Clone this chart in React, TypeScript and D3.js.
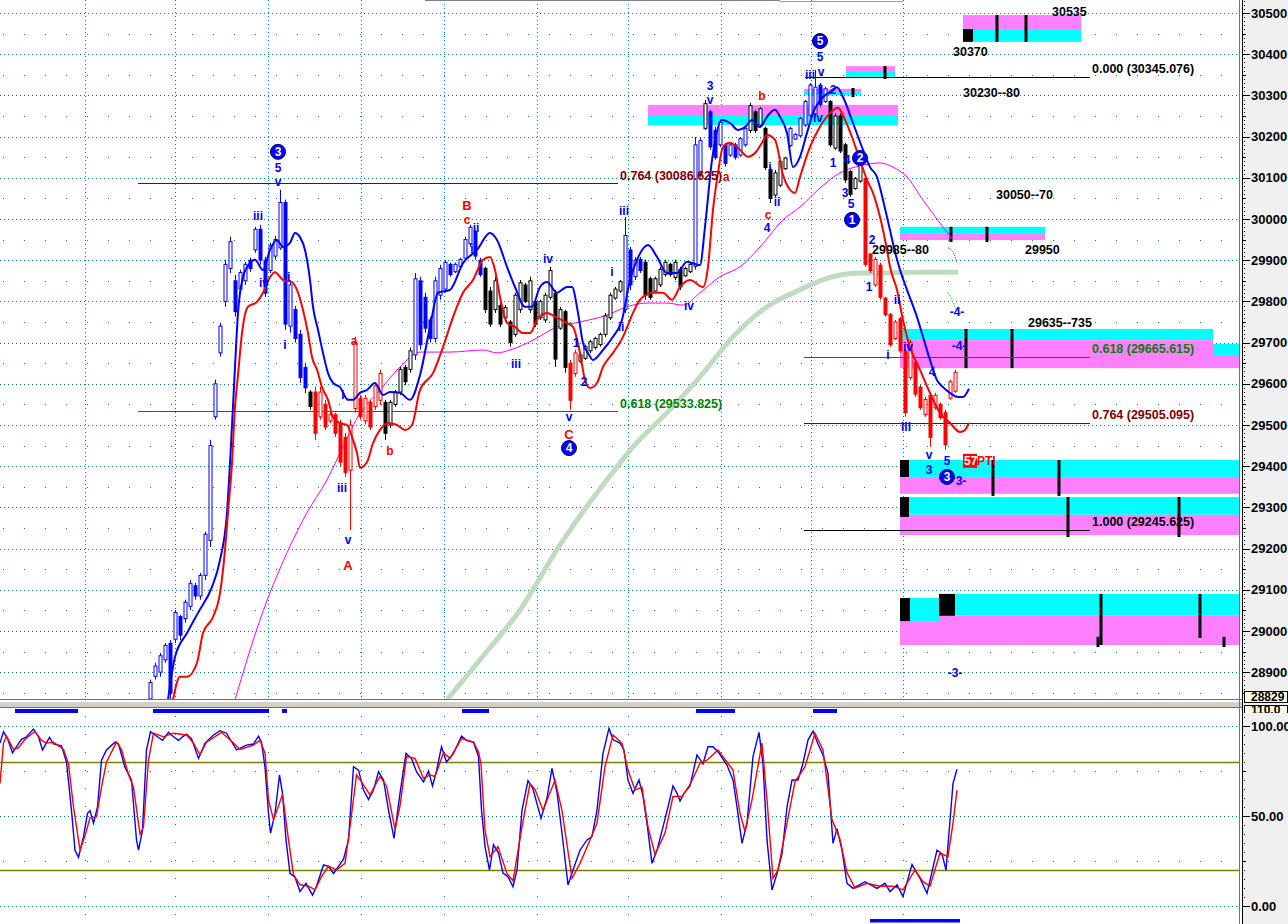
import React from 'react';
import * as d3 from 'd3';

// ---- data ----

// price bars, one per time slot starting at FIRST_BAR: [open, high, low, close]
const FIRST_BAR = 30;
const bars: [number, number, number, number][] = [
  [28835, 28882, 28820, 28875], [28890, 28923, 28882, 28915], [28900, 28947, 28889, 28940], [28930, 28971, 28923, 28965],
  [28970, 28978, 28833, 28850], [28980, 29051, 28971, 29045], [29035, 29039, 28978, 28990], [29030, 29076, 29020, 29070],
  [29060, 29124, 29051, 29115], [29110, 29117, 29076, 29085], [29085, 29141, 29076, 29135], [29135, 29241, 29124, 29235],
  [29220, 29464, 29204, 29450], [29520, 29610, 29513, 29600], [29675, 29748, 29666, 29740], [29800, 29901, 29787, 29890],
  [29880, 29957, 29869, 29945], [29850, 29864, 29763, 29775], [29830, 29877, 29821, 29870], [29850, 29896, 29840, 29890],
  [29900, 29906, 29872, 29880], [29925, 29981, 29918, 29975], [29975, 29986, 29889, 29900], [29900, 29908, 29811, 29820],
  [29875, 29942, 29869, 29935], [29910, 29959, 29901, 29950], [29930, 30071, 29925, 30040], [30040, 30047, 29731, 29745],
  [29740, 29852, 29724, 29840], [29780, 29789, 29700, 29710], [29720, 29731, 29602, 29615], [29640, 29651, 29578, 29590],
  [29580, 29585, 29537, 29545], [29580, 29593, 29464, 29480], [29520, 29593, 29513, 29580], [29550, 29561, 29488, 29495],
  [29510, 29530, 29505, 29525], [29525, 29530, 29471, 29480], [29505, 29513, 29399, 29410], [29470, 29481, 29374, 29385],
  [29390, 29513, 29245, 29500], [29540, 29714, 29530, 29700], [29565, 29573, 29513, 29520], [29510, 29573, 29501, 29565],
  [29555, 29561, 29488, 29495], [29545, 29602, 29537, 29595], [29560, 29634, 29549, 29625], [29555, 29561, 29464, 29480],
  [29500, 29561, 29493, 29555], [29550, 29585, 29544, 29580], [29580, 29641, 29573, 29635], [29640, 29646, 29597, 29605],
  [29635, 29688, 29627, 29680], [29670, 29869, 29658, 29855], [29850, 29860, 29683, 29695], [29810, 29821, 29724, 29735],
  [29755, 29763, 29700, 29710], [29710, 29860, 29700, 29850], [29815, 29889, 29804, 29880], [29830, 29901, 29821, 29895],
  [29890, 29894, 29860, 29865], [29872, 29894, 29869, 29890], [29885, 29906, 29882, 29902], [29905, 29957, 29901, 29950],
  [29940, 29986, 29932, 29980], [29970, 29974, 29901, 29910], [29900, 29906, 29860, 29865], [29880, 29884, 29772, 29780],
  [29825, 29835, 29738, 29745], [29780, 29860, 29772, 29850], [29790, 29796, 29738, 29745], [29760, 29791, 29755, 29785],
  [29750, 29755, 29690, 29700], [29720, 29821, 29714, 29815], [29780, 29852, 29772, 29845], [29840, 29845, 29796, 29800],
  [29780, 29860, 29772, 29850], [29800, 29804, 29738, 29745], [29760, 29804, 29755, 29800], [29755, 29821, 29748, 29815],
  [29810, 29884, 29804, 29875], [29820, 29828, 29641, 29660], [29735, 29787, 29731, 29780], [29775, 29780, 29627, 29640],
  [29650, 29658, 29537, 29560], [29625, 29683, 29617, 29675], [29655, 29675, 29651, 29670], [29662, 29695, 29658, 29690],
  [29680, 29707, 29675, 29702], [29688, 29714, 29683, 29710], [29695, 29724, 29690, 29720], [29720, 29772, 29714, 29765],
  [29760, 29821, 29755, 29815], [29808, 29835, 29804, 29830], [29825, 29852, 29821, 29848], [29780, 30005, 29772, 29960],
  [29925, 29932, 29828, 29840], [29860, 29908, 29852, 29900], [29902, 29908, 29869, 29875], [29895, 29901, 29804, 29815],
  [29855, 29860, 29804, 29810], [29825, 29860, 29821, 29855], [29840, 29884, 29835, 29878], [29865, 29901, 29860, 29895],
  [29890, 29894, 29860, 29865], [29858, 29901, 29852, 29895], [29878, 29884, 29828, 29835], [29862, 29884, 29860, 29880],
  [29872, 29894, 29869, 29890], [29885, 30199, 29877, 30180], [30110, 30199, 30102, 30190], [30220, 30289, 30216, 30280],
  [30260, 30265, 30168, 30175], [30215, 30224, 30144, 30150], [30180, 30241, 30175, 30235], [30180, 30185, 30127, 30135],
  [30155, 30185, 30151, 30180], [30180, 30185, 30144, 30150], [30155, 30199, 30151, 30195], [30180, 30224, 30175, 30220],
  [30215, 30282, 30209, 30275], [30260, 30265, 30209, 30215], [30228, 30272, 30224, 30268], [30220, 30224, 30119, 30125],
  [30120, 30127, 30039, 30050], [30058, 30119, 30054, 30112], [30082, 30144, 30078, 30140], [30122, 30151, 30119, 30148],
  [30178, 30224, 30175, 30220], [30194, 30209, 30192, 30205], [30202, 30248, 30199, 30244], [30228, 30289, 30224, 30285],
  [30252, 30330, 30248, 30325], [30255, 30362, 30248, 30320], [30325, 30330, 30272, 30278], [30285, 30321, 30282, 30316],
  [30285, 30289, 30175, 30180], [30172, 30257, 30168, 30250], [30250, 30257, 30160, 30165], [30180, 30185, 30088, 30095],
  [30115, 30119, 30054, 30060], [30074, 30102, 30071, 30098], [30092, 30144, 30088, 30140], [30098, 30102, 29884, 29890],
  [29915, 29918, 29869, 29875], [29840, 29908, 29835, 29902], [29888, 29894, 29804, 29810], [29808, 29811, 29763, 29768],
  [29768, 29772, 29690, 29695], [29710, 29755, 29707, 29750], [29758, 29763, 29675, 29680], [29678, 29683, 29520, 29530],
  [29615, 29707, 29610, 29700], [29652, 29658, 29568, 29575], [29592, 29597, 29537, 29542], [29525, 29568, 29520, 29562],
  [29572, 29578, 29447, 29470], [29542, 29578, 29537, 29572], [29550, 29554, 29513, 29518], [29530, 29537, 29440, 29452],
  [29565, 29610, 29561, 29605], [29582, 29634, 29578, 29628],
];

// bar colour runs: [first slot, colour]
const colorRuns: [number, string][] = [
  [30, 'b'], [62, 'k'], [63, 'r'], [77, 'k'], [83, 'b'], [97, 'k'], [114, 'r'], [116, 'k'], [125, 'b'],
  [129, 'k'], [139, 'b'], [141, 'k'], [142, 'b'], [150, 'k'], [158, 'b'], [166, 'k'], [173, 'r'],
];

// moving averages: [slot, price]
const blueMA: [number, number][] = [
  [33.6, 28833], [35, 28937], [37.4, 28995], [39.6, 29044], [42.4, 29107], [44, 29172], [45.4, 29287], [46.2, 29452],
  [47, 29641], [47.6, 29772], [48.6, 29859], [50, 29893], [51, 29901], [52.6, 29876], [54, 29925], [55.4, 29949],
  [56.6, 29932], [58, 29942], [59, 29966], [60, 29956], [61, 29925], [62, 29852], [62.6, 29787], [63.6, 29731],
  [64.6, 29675], [65.6, 29626], [66.6, 29602], [68, 29592], [69.6, 29561], [70.6, 29561], [72, 29578], [73.4, 29585],
  [75, 29602], [76.6, 29573], [78, 29580], [80, 29578], [82, 29561], [84, 29621], [86, 29738], [87.6, 29821],
  [90, 29828], [92.6, 29893], [95.4, 29925], [98, 29966], [99.4, 29949], [101.4, 29884], [103, 29835], [105, 29787],
  [106.4, 29787], [108, 29835], [109.4, 29847], [111.4, 29821], [113.4, 29835], [114.4, 29835], [115.6, 29772],
  [116.6, 29699], [117.6, 29675], [118.6, 29658], [120.6, 29682], [122.6, 29714], [124.4, 29755], [126, 29852],
  [127.4, 29901], [129.6, 29937], [131.4, 29908], [133.4, 29869], [135.4, 29869], [137.4, 29896], [140, 29888],
  [141, 29981], [142.4, 30143], [144.4, 30240], [146, 30233], [147.6, 30216], [149, 30223], [150.4, 30240],
  [152, 30223], [153.4, 30248], [155, 30265], [156, 30248], [157.4, 30209], [158.6, 30126], [160, 30151],
  [161.4, 30209], [162.6, 30257], [164.6, 30296], [166, 30308], [167.4, 30320], [168.6, 30296], [170.6, 30233],
  [172.6, 30168], [174, 30126], [175.4, 30102], [176.6, 30046], [178, 29973], [179, 29920], [180, 29877],
  [181.4, 29828], [183.4, 29762], [184.6, 29714], [186, 29658], [187.4, 29609], [188.6, 29592], [190, 29578],
  [191.6, 29568], [192.6, 29568], [193.8, 29588],
];

const redMA: [number, number][] = [
  [34.6, 28833], [36, 28889], [37.4, 28889], [39.4, 28923], [40.6, 28995], [42.6, 29034], [44, 29092], [45, 29197],
  [45.6, 29287], [46.4, 29408], [47, 29544], [47.6, 29621], [48.4, 29723], [49.6, 29787], [51.4, 29799], [52.6, 29821],
  [54, 29859], [55, 29871], [56.6, 29852], [58.4, 29847], [59.4, 29828], [60.6, 29779], [61.6, 29723], [62.4, 29665],
  [63.4, 29634], [64.4, 29592], [65.6, 29561], [66.6, 29519], [68, 29505], [69.4, 29500], [70.6, 29464], [71.4, 29432],
  [72, 29396], [73.4, 29410], [74.6, 29456], [76, 29488], [77.6, 29505], [79.4, 29500], [81, 29488], [82.4, 29500],
  [84, 29585], [86.6, 29626], [88.6, 29689], [90.6, 29762], [92.6, 29821], [94.6, 29852], [96.6, 29901], [98, 29908],
  [99, 29876], [100, 29811], [101.4, 29748], [103, 29738], [104.6, 29723], [106, 29723], [107.4, 29755], [109.4, 29772],
  [111.4, 29760], [113.4, 29748], [114.6, 29738], [116, 29675], [117, 29609], [118, 29590], [119.4, 29602],
  [120.6, 29641], [122.6, 29675], [124.6, 29714], [126.6, 29772], [128, 29804], [130.6, 29821], [132.6, 29821],
  [134.4, 29804], [136, 29835], [138, 29852], [140.6, 29835], [141.6, 29884], [142.6, 30022], [143.6, 30112],
  [144.6, 30175], [146, 30185], [148, 30168], [149.6, 30151], [151, 30160], [152.4, 30185], [153.4, 30204],
  [155, 30192], [156.6, 30107], [158, 30071], [159, 30063], [160, 30102], [162, 30175], [164, 30224], [166, 30257],
  [167.6, 30270], [169, 30241], [170.4, 30199], [172, 30143], [173.4, 30095], [174.6, 30063], [176, 30005],
  [177.4, 29925], [178, 29884], [179.4, 29828], [180.6, 29755], [182, 29689], [184, 29634], [186, 29578],
  [188, 29529], [190, 29505], [192, 29483], [193, 29488], [193.8, 29505],
];

const magentaMA: [number, number][] = [
  [47, 28833], [52, 29027], [57.4, 29190], [61.4, 29287], [65.4, 29367], [68.6, 29447], [72, 29529], [76, 29585],
  [80, 29641], [84, 29677], [90, 29677], [96.6, 29682], [99.4, 29675], [102, 29682], [106.6, 29706], [111.4, 29738],
  [116, 29750], [121.4, 29767], [125.4, 29787], [129.4, 29796], [133.4, 29796], [136.6, 29791], [140, 29821],
  [144, 29860], [148, 29884], [152, 29932], [156.6, 29998], [160, 30029], [164, 30075], [168, 30112], [172, 30129],
  [176, 30136], [178.6, 30126], [181.4, 30102], [184.6, 30046], [188, 29990], [190.6, 29949],
];

const greenMA: [number, number][] = [
  [89.4, 28833], [96, 28930], [104, 29051], [112, 29209], [118, 29313], [121.4, 29367], [126.6, 29447],
  [133.4, 29530], [140, 29617], [146.6, 29714], [153.4, 29787], [160, 29828], [164, 29850], [168, 29864],
  [172, 29869], [176, 29869], [182.6, 29871], [191.6, 29871],
];

// stochastic oscillator: [slot, value]
const oscBlue: [number, number][] = [
  [0, 90.5], [0.7, 96.8], [1.5, 93], [2.5, 85], [3.3, 88.5], [4.3, 92.6], [5.3, 94], [6.7, 98.3], [7.7, 94],
  [8.5, 86.7], [9.9, 93.7], [10.7, 90], [12.3, 89], [13.3, 80], [14.3, 53], [15, 31], [15.7, 27], [16.7, 38.5],
  [17.5, 51.5], [18, 53], [18.7, 46], [19.5, 55], [20.3, 81], [21.3, 86.7], [23, 91], [23.7, 90], [25, 77],
  [26.3, 70], [27.3, 36.7], [27.7, 31], [28.5, 42], [29.3, 86.7], [30.1, 96.8], [31, 95], [32.5, 92], [33.7, 96.5],
  [34.7, 94], [35.7, 92], [36.5, 94], [37.3, 95.5], [38.3, 93], [39.7, 82], [41, 90.5], [42.7, 95], [44, 97.4],
  [45.3, 96], [47.3, 86.7], [49.3, 89.4], [50.7, 90], [51.7, 94.4], [52.3, 91], [53, 77], [53.7, 51.5], [54.1, 40.5],
  [55, 51.5], [55.9, 72.8], [56.5, 62.6], [57.2, 36.7], [58, 18.1], [59, 16], [60, 8], [61.2, 12.6], [62.5, 6],
  [63.3, 11], [64.7, 22.8], [65.7, 22], [66.7, 18.1], [68.7, 26], [69.7, 36.7], [70.7, 77.4], [71.7, 75.5],
  [72.7, 64.4], [73.7, 59.2], [74.7, 64.4], [75.7, 74.6], [76.7, 70], [77.7, 53.3], [78.8, 37.6], [80, 62.6],
  [81.2, 84.8], [82.3, 82], [83.3, 74.6], [84.7, 69], [85.7, 75], [86.5, 66.7], [87.3, 75], [88.3, 88.5], [89.3, 80],
  [90.7, 84.8], [92.3, 94.4], [93.3, 92], [94.7, 91], [95.7, 83], [96.3, 53.3], [97, 33], [97.9, 20], [98.7, 34],
  [99.7, 29.4], [100.6, 18.3], [101.6, 16.3], [102.6, 10.7], [103.4, 20], [104.4, 53.3], [105.6, 69.6], [106.6, 65],
  [108.2, 48.7], [109.4, 60], [110.4, 76.5], [111.4, 63], [112.4, 40.4], [113.6, 11.7], [114.6, 20], [116, 31],
  [117.4, 36.7], [118.4, 38.5], [119.4, 53.3], [120.6, 84.8], [121.8, 98.7], [122.6, 92.5], [124, 90.5],
  [124.8, 86.7], [125.6, 70], [126.6, 62.6], [127.8, 70], [128.6, 61], [129.4, 45.9], [130.4, 23.7], [131.4, 31],
  [132.6, 44], [133.6, 55], [134.6, 66.7], [135.4, 62.6], [136, 58.3], [136.8, 62.6], [138, 66.7], [139.4, 83.9],
  [140.6, 79], [141.6, 88.5], [142.6, 88.5], [143.8, 85], [145.4, 78.3], [146.6, 70], [147.4, 55], [148.4, 34.8],
  [149.4, 46], [150.6, 83], [151.8, 96.5], [152.6, 79], [153.4, 36.7], [154.4, 8.9], [155.4, 18], [156.4, 29],
  [157.4, 55], [158.4, 70], [159.6, 70], [160.6, 79.3], [161.6, 92.2], [162.6, 97.2], [163.6, 90], [164.6, 83.9],
  [165.6, 73.7], [166.6, 34.8], [167.4, 43], [168.4, 31], [169.4, 12.6], [170.6, 9.8], [173, 13.5], [175.4, 9.8],
  [177, 12.6], [178, 8], [179.4, 11.7], [180.6, 5.2], [182.4, 23.1], [184, 15.4], [185.4, 7], [187.4, 31],
  [188.4, 29], [189.2, 20], [190.6, 68], [191.4, 76],
];

const oscRed: [number, number][] = [
  [0, 68], [0.7, 90.5], [1.3, 94.4], [2.7, 87], [3.7, 88], [5, 92.6], [7, 97], [8.3, 92], [9.3, 90.5], [10.7, 91],
  [12.7, 87], [13.7, 79], [14.7, 55], [16, 31], [17, 39], [18, 49], [19.3, 49.5], [20.3, 66], [21.3, 80], [23.3, 91],
  [24.3, 87], [25.7, 73], [26.7, 66], [28, 40], [28.7, 44], [29.7, 81], [30.7, 96], [32.7, 94], [34.7, 96],
  [37.3, 95], [38.7, 90.5], [40, 84], [41.3, 91], [44.3, 96.5], [46.7, 90.5], [48, 87], [50.7, 89.4], [52, 92],
  [53, 85], [53.7, 59], [54.7, 48], [55.7, 55.5], [56.5, 62], [57.7, 36.7], [58.7, 17.4], [60, 11.8], [61.7, 11],
  [63, 9], [64.3, 16.3], [65.7, 22.2], [67.3, 20], [69, 23.7], [70, 44], [71.3, 72.8], [72.3, 69], [74, 61.7],
  [76, 72], [77.3, 66.7], [79, 42.6], [80, 55.5], [81.3, 83], [83, 82], [84.7, 71], [86, 72.8], [87, 72],
  [88.7, 85], [90, 82], [92.3, 93], [94.7, 91], [95.7, 85.5], [96.2, 79], [97, 42], [98, 27.4], [99.6, 33],
  [101.4, 18], [102.6, 14], [104.4, 44], [106, 68], [107, 64.8], [108.6, 53], [111, 70], [112.4, 53], [114.4, 15.4],
  [116, 23.7], [118, 36.7], [119.4, 46], [121, 77.4], [122.6, 95], [124.4, 90.5], [125.6, 75.5], [127, 64.4],
  [128.4, 66], [129.6, 44], [131, 28.6], [133, 40.5], [134.6, 60.8], [136.4, 60.8], [138, 67.4], [140, 79.3],
  [141.4, 81], [143.6, 86.7], [146.6, 75.5], [148, 51.5], [149, 41.4], [150.4, 59], [152.4, 90.5], [153.4, 59],
  [154.6, 15.4], [155.6, 20], [157.4, 46], [159, 69], [161, 77.4], [163, 96], [164.6, 86.7], [166.4, 48], [168, 37],
  [169.4, 18.6], [171, 10], [173.4, 12.6], [176, 11], [178.6, 11], [180.6, 9], [183, 20], [184.6, 13.5], [186, 11],
  [188, 29.4], [189.6, 27.4], [190.6, 46], [191.4, 64.4],
];

// date grid lines (slots)
const gridSlots = [17, 35, 53.6, 72.2, 88.8, 107.4, 125.6, 144.2, 162.2, 180.6];

// Fibonacci levels: [from slot, to slot, price, colour, label]
const fibLevels: [number, number, number, string, string][] = [
  [27.6, 123.6, 30086.625, '#800000', '0.764 (30086.625)'],
  [27.6, 123.6, 29533.825, '#008000', '0.618 (29533.825)'],
  [161, 218, 30345.076, '#000000', '0.000 (30345.076)'],
  [160.8, 218, 29665.615, '#008000', '0.618 (29665.615)'],
  [160.8, 218, 29505.095, '#800000', '0.764 (29505.095)'],
  [160.8, 218, 29245.625, '#000000', '1.000 (29245.625)'],
];

// target zones: [from, to, top, mid, bottom, pink on top]
const zones: [number, number, number, number, number, boolean][] = [
  [192.6, 216.2, 30495, 30461, 30430, true],
  [169.2, 179, 30371, 30357, 30345, true],
  [160.8, 172.2, 30316, 30308, 30301, true],
  [129.6, 179.6, 30277, 30250, 30228, true],
  [180, 209, 29981, 29964, 29949, false],
  [180, 248, 29697, 29670, 29638, false],
  [180, 242.6, 29733, 29706, 29670, false],
  [180, 248, 29415, 29374, 29333, false],
  [180, 248, 29325, 29282, 29233, false],
  [180, 187.8, 29080, 29024, 28966, false],
  [187.8, 248, 29090, 29037, 28966, false],
];

// black blocks inside zones: [from, to, top, bottom]
const blocks: [number, number, number, number][] = [
  [192.6, 194.6, 30461, 30430], [180, 181.8, 29415, 29374], [180, 181.8, 29325, 29277],
  [180, 182, 29080, 29024], [187.8, 191, 29090, 29037],
];

// vertical time markers: [slot, top, bottom]
const markers: [number, number, number][] = [
  [199.4, 30495, 30430], [205.2, 30495, 30430], [177, 30371, 30340], [170.6, 30318, 30296],
  [190.2, 29981, 29944], [197.4, 29981, 29944], [193.2, 29733, 29638], [202.4, 29733, 29638],
  [198.6, 29415, 29328], [211.8, 29415, 29328], [213.6, 29325, 29228], [235.8, 29325, 29228],
  [220.2, 29090, 28966], [219.6, 28986, 28961], [240, 29090, 28983], [244.8, 28986, 28961],
];

// target price texts: [slot, price, text]
const targetTexts: [number, number, string][] = [
  [210.4, 30493, '30535'], [190.6, 30396, '30370'], [192.6, 30296, '30230--80'], [199.2, 30049, '30050--70'],
  [174.4, 29915, '29985--80'], [205, 29915, '29950'], [205.6, 29738, '29635--735'],
];

// circled wave numbers: [slot, price, text]
const circles: [number, number, string][] = [
  [55.6, 30163, '3'], [113.8, 29444, '4'], [164, 30432, '5'], [172, 30148, '2'], [170.4, 29998, '1'], [189.4, 29374, '3'],
];

// wave labels: [slot, price, text, colour key]
const waveLabels: [number, number, string, string][] = [
  [55.6, 30124, '5', 'b'], [55.6, 30090, 'v', 'b'], [51.6, 30007, 'iii', 'b'], [52.8, 29845, 'iv', 'b'],
  [57.4, 29859, 'ii', 'b'], [57, 29694, 'i', 'b'], [68.6, 29573, 'i', 'b'], [68.4, 29347, 'iii', 'b'],
  [69.6, 29221, 'v', 'b'], [95.2, 29978, 'ii', 'b'], [94.4, 29927, 'i', 'b'], [103.2, 29648, 'iii', 'b'],
  [109.6, 29903, 'iv', 'b'], [115.2, 29699, '1', 'b'], [116.8, 29604, '2', 'b'], [113.8, 29519, 'v', 'b'],
  [124.8, 30020, 'iii', 'b'], [122.4, 29871, 'i', 'b'], [124.2, 29738, 'ii', 'b'], [137.8, 29789, 'iv', 'b'],
  [142, 30323, '3', 'b'], [142, 30289, 'v', 'b'], [153.4, 29978, '4', 'b'], [155.4, 30041, 'ii', 'b'],
  [154, 30126, 'i', 'b'], [162, 30350, 'iii', 'b'], [164.2, 30357, 'v', 'b'], [164, 30393, '5', 'b'],
  [163.6, 30245, 'iv', 'b'], [166.6, 30313, '2', 'b'], [166.6, 30136, '1', 'b'], [169.4, 30143, '4', 'b'],
  [169, 30063, '3', 'b'], [170.2, 30037, '5', 'b'], [174.4, 29949, '2', 'b'], [173.8, 29835, '1', 'b'],
  [179.4, 29803, 'ii', 'b'], [177.6, 29670, 'i', 'b'], [181.6, 29689, 'iv', 'b'], [186.4, 29629, '4', 'b'],
  [181.2, 29495, 'iii', 'b'], [185.8, 29429, 'v', 'b'], [185.8, 29391, '3', 'b'], [189.4, 29413, '5', 'b'],
  [191.4, 29774, '-4-', 'b'], [191.8, 29692, '-4-', 'b'], [191, 28898, '-3-', 'b'], [192.2, 29364, '3-', 'b'],
  [69.6, 29160, 'A', 'r'], [70.8, 29704, 'a', 'r'], [78, 29437, 'b', 'r'], [93.4, 30034, 'B', 'r'],
  [93.4, 29998, 'c', 'r'], [113.8, 29477, 'C', 'r'], [152.4, 30299, 'b', 'r'], [153.6, 30010, 'c', 'r'],
  [145.2, 30102, 'a', 'r'],
];

// small projection strokes near the last bar
const greenTick: [number, number][] = [[189.6, 29823], [191.4, 29777]];
const redTick: [number, number][] = [[189.6, 29930], [190.6, 29920], [191.4, 29893]];

// blue strips along the oscillator edges: [from, to]
const topStrips: [number, number][] = [[3, 15.6], [30.6, 53.8], [56.4, 57.4], [92.4, 97.8], [139.2, 147], [162.6, 167.4]];
const bottomStrips: [number, number][] = [[174, 192]];

const priceTicks = d3.range(28900, 30501, 100);
const oscTicks = [100, 50, 0];

// ---- layout ----
const W = 1288;
const H = 924;
const PLOT_R = 1240;
const MAIN_B = 700;
const OSC_T = 708;

const x = d3.scaleLinear().domain([0, 248]).range([0, PLOT_R]);
const y = d3.scaleLinear().domain([28900, 30500]).range([672.2, 13]);
const yo = d3.scaleLinear().domain([0, 100]).range([906, 726]);

const crisp = (v: number) => Math.round(v) + 0.5;
const FONT = '"Liberation Sans", Arial, sans-serif';
const COL: Record<string, string> = { b: '#0000ff', k: '#000000', r: '#ff0000' };
const TEAL = '#008080';
const OLIVE = '#808000';

function barColor(t: number) {
  let c = 'b';
  for (const [s, k] of colorRuns) if (t >= s) c = k;
  return COL[c];
}

const priceLine = d3.line<[number, number]>().x(d => x(d[0])).y(d => y(d[1])).curve(d3.curveMonotoneX);
const oscLine = d3.line<[number, number]>().x(d => x(d[0])).y(d => yo(d[1]));

export default function App() {
  const halfLevels = d3.range(28850, 30501, 100);
  const minorPrice = d3.range(28830, 30531, 10).filter(v => v % 50 !== 0);
  const minorOsc = d3.range(0, 111, 5).filter(v => v % 25 !== 0);

  return (
    <>
      <style>{'body{margin:0;overflow:hidden;background:#fff}'}</style>
      <svg width={W} height={H} style={{ display: 'block' }} fontFamily={FONT}>
        <defs>
          <clipPath id="main"><rect x={0} y={0} width={PLOT_R} height={MAIN_B} /></clipPath>
          <clipPath id="osc"><rect x={0} y={OSC_T} width={PLOT_R} height={H - OSC_T} /></clipPath>
          <clipPath id="lbl"><rect x={1244} y={705} width={44} height={8} /></clipPath>
        </defs>
        <rect width={W} height={H} fill="#fff" />

        {/* main panel */}
        <g clipPath="url(#main)">
          {priceTicks.map(v => (
            <line key={v} x1={0} x2={PLOT_R} y1={crisp(y(v))} y2={crisp(y(v))} stroke={TEAL} strokeDasharray="1 3" />
          ))}
          {halfLevels.map(v => (
            <line key={v} x1={3} x2={PLOT_R} y1={crisp(y(v))} y2={crisp(y(v))} stroke={TEAL} strokeDasharray="1 20" />
          ))}
          {gridSlots.map(t => (
            <line key={t} x1={crisp(x(t))} x2={crisp(x(t))} y1={0} y2={MAIN_B} stroke={TEAL} strokeDasharray="1 3" />
          ))}

          {zones.map(([t0, t1, top, mid, bot, pinkTop], i) => (
            <g key={i}>
              <rect x={x(t0)} y={y(top)} width={x(t1) - x(t0)} height={y(mid) - y(top)} fill={pinkTop ? '#ff80ff' : '#00ffff'} />
              <rect x={x(t0)} y={y(mid)} width={x(t1) - x(t0)} height={y(bot) - y(mid)} fill={pinkTop ? '#00ffff' : '#ff80ff'} />
            </g>
          ))}
          {blocks.map(([t0, t1, top, bot], i) => (
            <rect key={i} x={x(t0)} y={y(top)} width={x(t1) - x(t0)} height={y(bot) - y(top)} fill="#000" />
          ))}
          {markers.map(([t, top, bot], i) => (
            <line key={i} x1={x(t)} x2={x(t)} y1={y(top)} y2={y(bot)} stroke="#000" strokeWidth={3} />
          ))}

          {fibLevels.map(([t0, t1, p, c], i) => (
            <line key={i} x1={x(t0)} x2={x(t1)} y1={crisp(y(p))} y2={crisp(y(p))} stroke={c} strokeWidth={1} />
          ))}

          <path d={priceLine(greenMA) || ''} fill="none" stroke="#c0dcc0" strokeWidth={5} />
          <path d={priceLine(magentaMA) || ''} fill="none" stroke="#ff00ff" strokeWidth={1} />

          {bars.map(([o, h, l, c], i) => {
            const t = FIRST_BAR + i;
            const col = barColor(t);
            const cx = crisp(x(t));
            const top = y(Math.max(o, c));
            const bot = y(Math.min(o, c));
            return (
              <g key={i}>
                <line x1={cx} x2={cx} y1={y(h)} y2={y(l)} stroke={col} strokeWidth={1} />
                <rect x={cx - 1.5} y={top} width={3} height={Math.max(1, bot - top)} fill={c >= o ? '#fff' : col} stroke={col} strokeWidth={1} />
              </g>
            );
          })}

          <path d={priceLine(blueMA) || ''} fill="none" stroke="#0000ff" strokeWidth={2} />
          <path d={priceLine(redMA) || ''} fill="none" stroke="#ff0000" strokeWidth={2} />
          <path d={priceLine(greenTick) || ''} fill="none" stroke="#40e040" strokeWidth={1} strokeDasharray="2 1" />
          <path d={priceLine(redTick) || ''} fill="none" stroke="#ff0000" strokeWidth={1} strokeDasharray="1 1" />

          {fibLevels.map(([, t1, p, c, label], i) => (
            <text key={i} x={x(t1) + 2} y={y(p) - 3.5} fill={c} fontSize={12.5} fontWeight="bold">{label}</text>
          ))}
          {targetTexts.map(([t, p, s], i) => (
            <text key={i} x={x(t)} y={y(p)} fill="#000" fontSize={12.5} fontWeight="bold">{s}</text>
          ))}

          {waveLabels.map(([t, p, s, c], i) => (
            <text key={i} x={x(t)} y={y(p)} dy="0.36em" textAnchor="middle" fill={c === 'r' ? '#ff0000' : '#0000ff'}
              fontSize={/[ABC]/.test(s) ? 13 : 12} fontWeight="bold">{s}</text>
          ))}
          {circles.map(([t, p, s], i) => (
            <g key={i}>
              <circle cx={x(t)} cy={y(p)} r={7.5} fill="#0000ff" stroke="#000060" strokeWidth={1} />
              <text x={x(t)} y={y(p)} dy="0.36em" textAnchor="middle" fill="#fff" fontSize={12} fontWeight="bold">{s}</text>
            </g>
          ))}
          <rect x={x(192.6)} y={y(29413) - 7} width={x(195.4) - x(192.6)} height={14} fill="#ff0000" />
          <text x={x(192.6) + 1} y={y(29413)} dy="0.36em" fill="#fff" fontSize={12} fontWeight="bold">57</text>
          <text x={x(195.4)} y={y(29413)} dy="0.36em" fill="#ff0000" fontSize={12} fontWeight="bold">PTI</text>

          <line x1={x(85)} x2={x(156)} y1={0.5} y2={0.5} stroke="#808080" />
          <line x1={x(156)} x2={x(180.6)} y1={1.5} y2={1.5} stroke="#00e0e0" />
        </g>

        {/* panel separator */}
        <line x1={0} x2={1243} y1={699.5} y2={699.5} stroke={OLIVE} />
        <rect x={0} y={701} width={1243} height={6} fill="#d4d0c8" />
        <line x1={0} x2={1243} y1={701.5} y2={701.5} stroke="#ffffff" />
        <line x1={0} x2={1243} y1={707.5} y2={707.5} stroke={OLIVE} />

        {/* oscillator panel */}
        <g clipPath="url(#osc)">
          {oscTicks.map(v => (
            <line key={v} x1={0} x2={PLOT_R} y1={crisp(yo(v))} y2={crisp(yo(v))} stroke={TEAL} strokeDasharray="1 3" />
          ))}
          {[75, 25].map(v => (
            <line key={v} x1={3} x2={PLOT_R} y1={crisp(yo(v))} y2={crisp(yo(v))} stroke={TEAL} strokeDasharray="1 20" />
          ))}
          {gridSlots.map(t => (
            <line key={t} x1={crisp(x(t))} x2={crisp(x(t))} y1={OSC_T + 8} y2={H} stroke={TEAL} strokeDasharray="1 17" />
          ))}
          {[80, 20].map(v => (
            <line key={v} x1={0} x2={PLOT_R} y1={crisp(yo(v))} y2={crisp(yo(v))} stroke={OLIVE} strokeWidth={1.5} />
          ))}
          {topStrips.map(([t0, t1], i) => (
            <rect key={i} x={x(t0)} y={709} width={x(t1) - x(t0)} height={4} fill="#0000ff" />
          ))}
          {bottomStrips.map(([t0, t1], i) => (
            <rect key={i} x={x(t0)} y={919} width={x(t1) - x(t0)} height={3.5} fill="#0000ff" />
          ))}
          <path d={oscLine(oscBlue) || ''} fill="none" stroke="#0000ff" strokeWidth={1.4} />
          <path d={oscLine(oscRed) || ''} fill="none" stroke="#ff0000" strokeWidth={1.4} />
        </g>

        {/* right axis */}
        <rect x={1243} y={0} width={W - 1243} height={H} fill="#f0f0f0" />
        <line x1={1239.5} x2={1239.5} y1={0} y2={H} stroke={OLIVE} />
        <line x1={1242.5} x2={1242.5} y1={0} y2={H} stroke="#000" />
        {minorPrice.map(v => (
          y(v) > 0 && y(v) < MAIN_B - 8 ? <rect key={v} x={1244} y={Math.round(y(v))} width={1} height={1} fill="#000" /> : null
        ))}
        {d3.range(28850, 30501, 100).map(v => (
          <line key={v} x1={1243} x2={1246} y1={crisp(y(v))} y2={crisp(y(v))} stroke="#000" />
        ))}
        {priceTicks.map(v => (
          <g key={v}>
            <line x1={1243} x2={1250} y1={crisp(y(v))} y2={crisp(y(v))} stroke="#000" />
            <text x={1251} y={y(v)} dy="0.36em" fontSize={13} fontWeight="bold" fill="#000">{v}</text>
          </g>
        ))}
        <rect x={1244.5} y={691.5} width={43} height={11} fill="#ffffe1" stroke="#000" />
        <text x={1251} y={697} dy="0.36em" fontSize={12} fontWeight="bold" fill="#000">28829</text>
        <g clipPath="url(#lbl)">
          <rect x={1244.5} y={705.5} width={43} height={10} fill="#ffffe1" stroke="#000" />
          <text x={1251} y={714} fontSize={12} fontWeight="bold" fill="#000">110.0</text>
        </g>
        {minorOsc.map(v => (
          <rect key={v} x={1244} y={Math.round(yo(v))} width={1} height={1} fill="#000" />
        ))}
        {[75, 25].map(v => (
          <line key={v} x1={1243} x2={1246} y1={crisp(yo(v))} y2={crisp(yo(v))} stroke="#000" />
        ))}
        {oscTicks.map(v => (
          <g key={v}>
            <line x1={1243} x2={1250} y1={crisp(yo(v))} y2={crisp(yo(v))} stroke="#000" />
            <text x={1251} y={yo(v)} dy="0.36em" fontSize={13} fontWeight="bold" fill="#000">{v.toFixed(2)}</text>
          </g>
        ))}
      </svg>
    </>
  );
}
